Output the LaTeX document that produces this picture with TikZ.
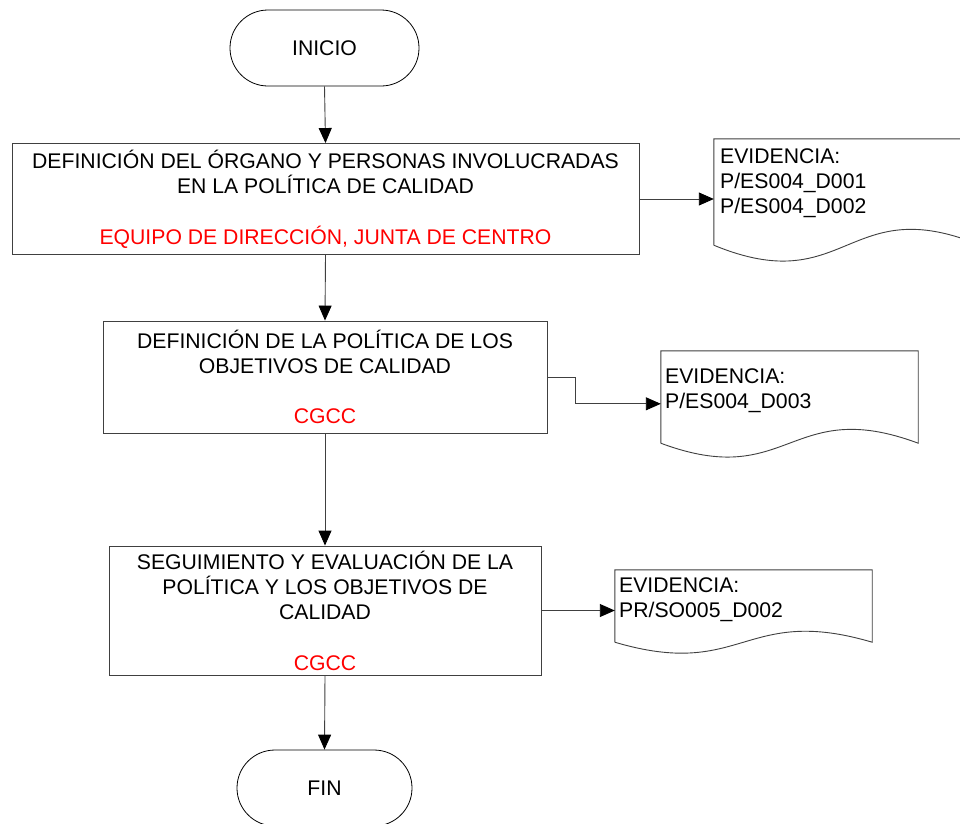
\documentclass[tikz,border=0pt]{standalone}
\usepackage{fontspec}
\setmainfont{Liberation Sans}
\usetikzlibrary{arrows.meta,calc}
\tikzset{
  lineclr/.style={draw=black!75, line width=0.9pt},
  terminal/.style={draw=black, line width=0.8pt, rectangle, rounded corners=37.9pt, inner sep=0pt},
  procbox/.style={lineclr, rectangle, inner sep=0pt, align=center, font=\fontsize{21.2}{25}\selectfont},
  docframe/.style={rectangle, inner sep=0pt, draw=none},
  doctext/.style={inner sep=0pt, align=left, anchor=west, font=\fontsize{21.2}{25}\selectfont},
  arr/.style={lineclr, -{Triangle[length=15pt,width=13pt,color=black,fill=black]}},
  conn/.style={lineclr}
}
\newcommand\docpath[2]{%
  \draw[lineclr] (#1.south west) -- (#1.north west) -- (#1.north east) -- (#1.south east)
    .. controls ($(#1.south)+(0,-#2)$) and ($(#1.south)+(0,#2)$) .. (#1.south west);}
\begin{document}
\begin{tikzpicture}[x=1pt,y=-1pt]
\useasboundingbox (0,0) rectangle (960,823);
\clip (0,0) rectangle (960,823);
\fill[white] (0,0) rectangle (960,823);
% terminals
\node[terminal, minimum width=189pt, minimum height=76pt, font=\fontsize{21.2}{25}\selectfont] (ini) at (324.5,48) {INICIO};
\node[terminal, minimum width=175pt, minimum height=76pt, font=\fontsize{21.2}{25}\selectfont] (fin) at (324.5,788) {FIN};
% process boxes
\node[procbox, minimum width=627pt, minimum height=111pt] (b1) at (325.5,199)
  {DEFINICIÓN DEL ÓRGANO Y PERSONAS INVOLUCRADAS\\EN LA POLÍTICA DE CALIDAD\\[26pt]\textcolor{red}{EQUIPO DE DIRECCIÓN, JUNTA DE CENTRO}};
\node[procbox, minimum width=444pt, minimum height=112pt] (b2) at (325,377)
  {DEFINICIÓN DE LA POLÍTICA DE LOS\\OBJETIVOS DE CALIDAD\\[25pt]\textcolor{red}{CGCC}};
\node[procbox, minimum width=432pt, minimum height=129pt] (b3) at (325,610.5)
  {SEGUIMIENTO Y EVALUACIÓN DE LA\\POLÍTICA Y LOS OBJETIVOS DE\\CALIDAD\\[26pt]\textcolor{red}{CGCC}};
% documents
\node[docframe, minimum width=266pt, minimum height=106pt] (d1) at (847,192) {};
\docpath{d1}{55}
\node[doctext] (d1t) at (720,183) {EVIDENCIA:\\P/ES004\_D001\\P/ES004\_D002};
\node[docframe, minimum width=257pt, minimum height=92pt] (d2) at (789.5,397) {};
\docpath{d2}{48}
\node[doctext] (d2t) at (665,391) {EVIDENCIA:\\P/ES004\_D003};
\node[docframe, minimum width=257pt, minimum height=72pt] (d3) at (743.5,606) {};
\docpath{d3}{38}
\node[doctext] (d3t) at (619,600) {EVIDENCIA:\\PR/SO005\_D002};
% connectors
\draw[arr] (ini.south) -- (b1.north);
\draw[arr] (b1.south) -- (b2.north);
\draw[arr] (b2.south) -- (b3.north);
\draw[arr] (b3.south) -- (fin.north);
\draw[arr] (b1.east) -- (b1.east -| d1.west);
\coordinate (e2) at ($(d2.north west)+(0,53)$);
\draw[arr] (b2.east) -- ++(28,0) |- (e2);
\draw[arr] (b3.east) -- (b3.east -| d3.west);
\end{tikzpicture}
\end{document}
